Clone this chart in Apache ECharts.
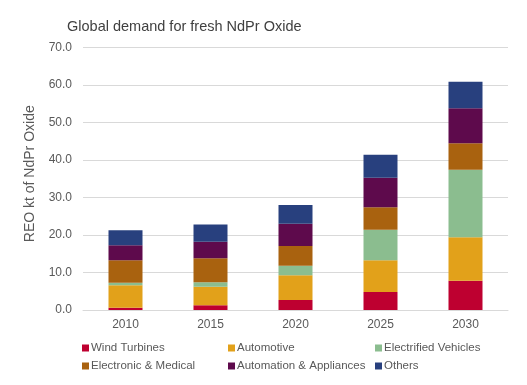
<!DOCTYPE html>
<html>
<head>
<meta charset="utf-8">
<script src="https://cdn.jsdelivr.net/npm/echarts@6/dist/echarts.min.js"></script>
<style>html,body{margin:0;padding:0;background:#fff;}#c{width:527px;height:385px;}</style>
</head>
<body>
<div id="c"></div>
<script>
const categories = ['2010', '2015', '2020', '2025', '2030'];
const windTurbines = [0.6, 1.3, 2.7, 4.8, 7.8];
const automotive = [6.0, 4.9, 6.6, 8.5, 11.6];
const electrifiedVehicles = [0.7, 1.2, 2.5, 8.1, 18.0];
const electronicMedical = [6.0, 6.4, 5.3, 6.0, 7.1];
const automationAppliances = [4.0, 4.4, 5.9, 7.9, 9.3];
const others = [4.0, 4.6, 5.0, 6.1, 7.1];
const yTicks = [0, 10, 20, 30, 40, 50, 60, 70];

const seriesDefs = [
  ['Wind Turbines', windTurbines, '#BE0030'],
  ['Automotive', automotive, '#E2A11A'],
  ['Electrified Vehicles', electrifiedVehicles, '#8BBD8F'],
  ['Electronic & Medical', electronicMedical, '#A9620F'],
  ['Automation & Appliances', automationAppliances, '#5E0A4C'],
  ['Others', others, '#28407E']
];

const chart = echarts.init(document.getElementById('c'), null, {renderer: 'canvas'});
const legendBase = {
  orient: 'vertical', top: 337, itemWidth: 7, itemHeight: 7, itemGap: 6,
  icon: 'rect',
  textStyle: {fontFamily: 'Liberation Sans, Arial, sans-serif', fontSize: 11.5, color: '#595959', padding: [0,0,0,-3]}
};
chart.setOption({
  animation: false,
  title: {
    text: 'Global demand for fresh NdPr Oxide', left: 62, top: 14,
    textStyle: {fontFamily: 'Liberation Sans, Arial, sans-serif', fontSize: 14.5, fontWeight: 'normal', color: '#404040'}
  },
  legend: [
    Object.assign({}, legendBase, {left: 77, data: ['Wind Turbines', 'Electronic & Medical']}),
    Object.assign({}, legendBase, {left: 223, data: ['Automotive', 'Automation & Appliances']}),
    Object.assign({}, legendBase, {left: 370, data: ['Electrified Vehicles', 'Others']})
  ],
  grid: {left: 83, right: 19, top: 47.5, bottom: 75, containLabel: false},
  xAxis: {
    type: 'category', data: categories,
    axisLine: {lineStyle: {color: '#d9d9d9'}},
    axisTick: {show: false},
    axisLabel: {fontFamily: 'Liberation Sans, Arial, sans-serif', fontSize: 12, color: '#595959', margin: 9}
  },
  yAxis: {
    type: 'value', min: yTicks[0], max: yTicks[yTicks.length - 1], interval: 10,
    name: 'REO kt of NdPr Oxide', nameLocation: 'middle', nameGap: 46, nameRotate: 90,
    nameTextStyle: {fontFamily: 'Liberation Sans, Arial, sans-serif', fontSize: 14, color: '#595959', padding: [0, 0, 0, 10]},
    axisLine: {show: false}, axisTick: {show: false},
    axisLabel: {fontFamily: 'Liberation Sans, Arial, sans-serif', fontSize: 12, color: '#595959', margin: 11,
      formatter: v => v.toFixed(1)},
    splitLine: {lineStyle: {color: '#d9d9d9', width: 1}}
  },
  series: seriesDefs.map(([name, data, color]) => ({
    name, type: 'bar', stack: 'total', data, barWidth: '40%',
    itemStyle: {color}
  }))
});
</script>
</body>
</html>
